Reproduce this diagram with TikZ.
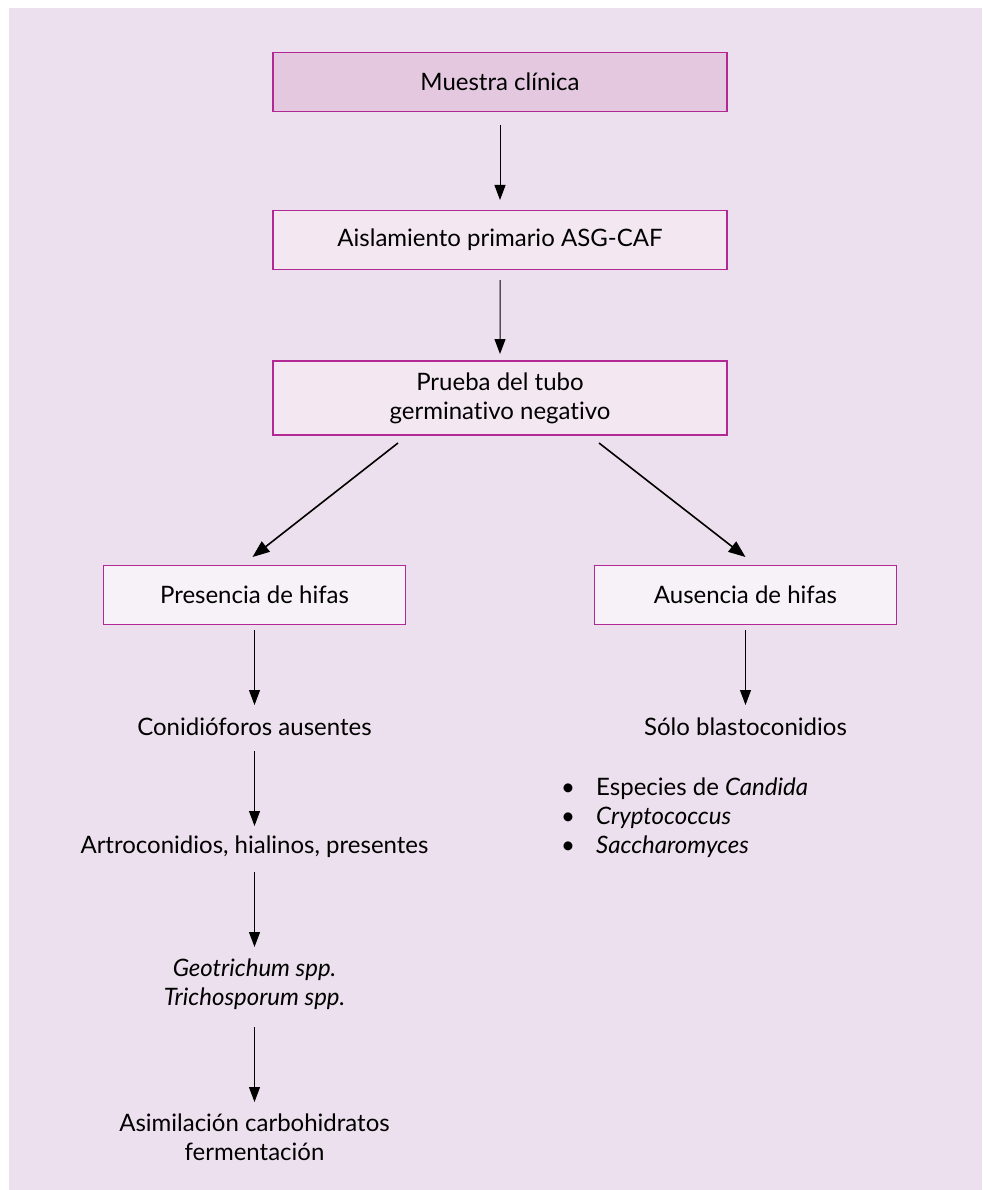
\documentclass[tikz,border=0pt]{standalone}
\usepackage{fontspec}
\setmainfont{Lato}[Ligatures=NoCommon]
\usetikzlibrary{arrows.meta,calc}
\definecolor{fondo}{RGB}{237,224,238}
\definecolor{borde}{RGB}{178,40,148}
\definecolor{muestrafondo}{RGB}{227,200,223}
\definecolor{cajafondo}{RGB}{243,232,242}
\definecolor{clarafondo}{RGB}{247,242,247}
\begin{document}
\begin{tikzpicture}
	[x=1pt,y=1pt,
	every node/.style={font=\fontsize{24}{29}\selectfont,align=center,text=black},
	caja/.style={draw=borde,line width=1.2pt,fill=cajafondo,minimum width=454pt,minimum height=59pt,inner sep=0pt},
	muestra/.style={caja,fill=muestrafondo},
	clara/.style={caja,fill=clarafondo,minimum width=302pt},
	texto/.style={inner sep=0pt},
	recta/.style={edge from parent path={(\tikzparentnode.center) -- (\tikzchildnode.center)}},
	recta,
	edge from parent/.style={draw,line width=1pt,-{Triangle[length=15pt,width=11pt]}},
	level 1/.style={level distance=158pt,edge from parent/.append style={shorten <=43pt,shorten >=40pt}},
	level 2/.style={level distance=158pt,edge from parent/.append style={shorten <=40pt,shorten >=44pt}},
	level 3/.style={level distance=197pt,sibling distance=491pt,edge from parent/.append style={line width=1.6pt,shorten <=0pt,shorten >=0pt,-{Triangle[length=17pt,width=13pt]}}},
	level 4/.style={recta,level distance=132pt,edge from parent/.append style={line width=1pt,shorten <=35pt,shorten >=22pt,-{Triangle[length=15pt,width=11pt]}}},
	level 5/.style={level distance=120pt,edge from parent/.append style={shorten <=24pt,shorten >=21pt}},
	level 6/.style={level distance=137pt,edge from parent/.append style={shorten <=25pt,shorten >=37pt}},
	level 7/.style={level distance=153pt,edge from parent/.append style={shorten <=43pt,shorten >=35pt}}
	]
	\useasboundingbox (0,0) rectangle (982,-1190);
	\fill[white] (0,0) rectangle (982,-1190);
	\fill[fondo] (9,-8) rectangle (982,-1190);
	\node[muestra] (muestra) at (500,-82) {Muestra clínica}
		child {node[caja] (aislamiento) {Aislamiento primario ASG-CAF}
			child {node[caja,minimum height=74pt] (prueba) {Prueba del tubo\\germinativo negativo}
				child[edge from parent path={($(\tikzparentnode.center)+(-102,-45)$) -- ($(\tikzchildnode.center)+(-2,38)$)}]
				{node[clara] (presencia) {Presencia de hifas}
					child {node[texto] (conidioforos) {Conidióforos ausentes}
						child {node[texto] (artroconidios) {Artroconidios, hialinos, presentes}
							child {node[texto] (geotrichum) {\textit{Geotrichum spp.}\\\textit{Trichosporum spp.}}
								child {node[texto] (asimilacion) {Asimilación carbohidratos\\fermentación}}
							}
						}
					}
				}
				child[edge from parent path={($(\tikzparentnode.center)+(99,-45)$) -- ($(\tikzchildnode.center)+(0,38)$)}]
				{node[clara] (ausencia) {Ausencia de hifas}
					child {node[texto] (solo) {Sólo blastoconidios}}
				}
			}
		};
	\node[texto,align=left,anchor=west] (especies) at (561,-818)
		{\makebox[35pt][l]{\textbullet}Especies de \textit{Candida}\\
		 \makebox[35pt][l]{\textbullet}\textit{Cryptococcus}\\
		 \makebox[35pt][l]{\textbullet}\textit{Saccharomyces}};
\end{tikzpicture}
\end{document}
